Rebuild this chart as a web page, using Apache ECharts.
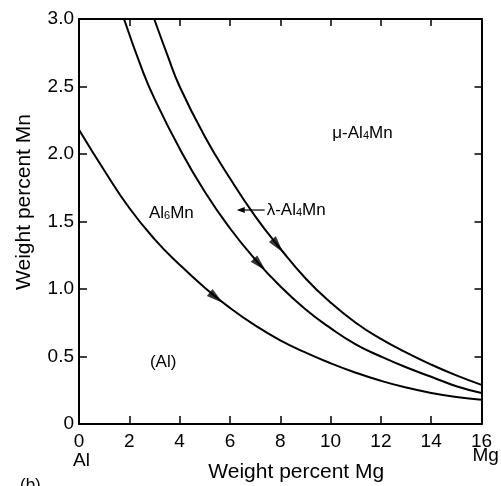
<!DOCTYPE html>
<html><head><meta charset="utf-8">
<script src="https://cdn.jsdelivr.net/npm/echarts@6/dist/echarts.min.js"></script>
<style>html,body{margin:0;padding:0;background:#fff}#c{width:501px;height:486px}</style>
</head><body><div id="c"></div>
<script>
// ---- data ----
const mgTicks = [0, 2, 4, 6, 8, 10, 12, 14, 16];
const mnTicks = [0, 0.5, 1.0, 1.5, 2.0, 2.5, 3.0];

const mgLower = [0, 1, 2, 3, 4, 5, 6, 7, 8, 9, 10, 11, 12, 13, 14, 15, 16];
const mnLower = [2.18, 1.88, 1.60, 1.37, 1.18, 1.01, 0.86, 0.73, 0.62, 0.53, 0.45, 0.38, 0.32, 0.27, 0.23, 0.20, 0.18];

const mgMiddle = [1.79, 2.5, 3, 4, 5, 6, 7, 8, 9, 10, 11, 12, 13, 14, 15, 16];
const mnMiddle = [3.0, 2.63, 2.41, 2.04, 1.72, 1.45, 1.22, 1.02, 0.85, 0.71, 0.59, 0.50, 0.42, 0.35, 0.28, 0.23];

const mgUpper = [2.99, 3.5, 4, 5, 6, 7, 8, 9, 10, 11, 12, 13, 14, 15, 16];
const mnUpper = [3.0, 2.74, 2.50, 2.13, 1.82, 1.54, 1.30, 1.08, 0.90, 0.75, 0.63, 0.53, 0.44, 0.36, 0.29];

// arrowheads on the curves (Mg, Mn) and their direction (deg below horizontal)
const arrowMg = [5.46, 7.19, 7.9];
const arrowMn = [0.935, 1.18, 1.32];
const arrowAngle = [39, 46, 51];

// ---- chart ----
const FONT = '"Liberation Sans", Arial, sans-serif';
const chart = echarts.init(document.getElementById('c'), null, {renderer: 'canvas'});
const zip = (xs, ys) => xs.map((x, i) => [x, ys[i]]);
const lineStyle = {color: '#000', width: 2};
const curve = (xs, ys) => ({
  type: 'line', data: zip(xs, ys), smooth: 0.5, symbol: 'none',
  lineStyle: lineStyle, silent: true, z: 3
});

const option = {
  animation: false,
  backgroundColor: '#fff',
  grid: {left: 79, right: 19.5, top: 19, bottom: 62},
  xAxis: [{
    type: 'value', min: 0, max: 16, interval: 2, position: 'bottom',
    axisLine: {show: true, lineStyle: {color: '#000', width: 2}},
    axisTick: {show: true, inside: true, length: 8, lineStyle: {color: '#000', width: 1.5}},
    axisLabel: {color: '#000', fontSize: 19, fontFamily: FONT, margin: 8,
      formatter: v => mgTicks.includes(v) ? String(v) : ''},
    splitLine: {show: false}
  }, {
    type: 'value', min: 0, max: 16, interval: 2, position: 'top',
    axisLine: {show: true, onZero: false, lineStyle: {color: '#000', width: 2}},
    axisTick: {show: true, inside: true, length: 7, lineStyle: {color: '#000', width: 1.5}},
    axisLabel: {show: false}, splitLine: {show: false}
  }],
  yAxis: [{
    type: 'value', min: 0, max: 3, interval: 0.5, position: 'left',
    axisLine: {show: true, lineStyle: {color: '#000', width: 2}},
    axisTick: {show: true, inside: true, length: 8, lineStyle: {color: '#000', width: 1.5}},
    axisLabel: {color: '#000', fontSize: 19, fontFamily: FONT, margin: 5,
      formatter: v => v === 0 ? '0' : v.toFixed(1)},
    splitLine: {show: false}
  }, {
    type: 'value', min: 0, max: 3, interval: 0.5, position: 'right',
    axisLine: {show: true, onZero: false, lineStyle: {color: '#000', width: 2}},
    axisTick: {show: true, inside: true, length: 7, lineStyle: {color: '#000', width: 1.5}},
    axisLabel: {show: false}, splitLine: {show: false}
  }],
  series: [
    curve(mgLower, mnLower),
    curve(mgMiddle, mnMiddle),
    curve(mgUpper, mnUpper),
    {
      type: 'scatter', silent: true, z: 4,
      data: arrowMg.map((x, i) => ({
        value: [x, arrowMn[i]],
        symbolRotate: -(90 + arrowAngle[i])
      })),
      symbol: 'triangle', symbolSize: [9, 17],
      itemStyle: {color: '#000'}
    }
  ]
};
chart.setOption(option);

// ---- annotations placed in data coordinates ----
const px = (x, y) => chart.convertToPixel({gridIndex: 0}, [x, y]);
const rich = {s: {fontSize: 11, fontFamily: FONT, fill: '#000', verticalAlign: 'bottom', padding: [5, 0, 0, 0]}};
const txt = (p, text, size) => ({
  type: 'text', x: p[0], y: p[1], silent: true,
  style: {text: text, fill: '#000', fontSize: size, fontFamily: FONT,
    align: 'left', verticalAlign: 'middle', rich: rich}
});

const pMu = px(10.07, 2.156);
const pLam = px(7.46, 1.585);
const pLamArrEnd = px(6.27, 1.585);
const pAl6 = px(2.78, 1.563);
const pAl = px(2.82, 0.46);
const p0 = px(0, 0);
const p16 = px(16, 0);
const gridCenterX = (p0[0] + p16[0]) / 2;

const graphic = [
  txt(pMu, 'μ-Al{s|4}Mn', 17),
  txt(pLam, 'λ-Al{s|4}Mn', 17),
  txt(pAl6, 'Al{s|6}Mn', 17),
  txt(pAl, '(Al)', 17),
  {type: 'line', silent: true, shape: {x1: pLam[0] - 2, y1: pLam[1], x2: pLamArrEnd[0] + 4, y2: pLam[1]},
    style: {stroke: '#000', lineWidth: 1.2}},
  {type: 'polygon', silent: true, shape: {points: [
    [pLamArrEnd[0], pLam[1]], [pLamArrEnd[0] + 8, pLam[1] - 3], [pLamArrEnd[0] + 8, pLam[1] + 3]]},
    style: {fill: '#000'}},
  // axis titles
  {type: 'text', silent: true, x: gridCenterX + 16, y: 472,
    style: {text: 'Weight percent Mg', fill: '#000', fontSize: 21, fontFamily: FONT, align: 'center', verticalAlign: 'middle'}},
  {type: 'text', silent: true, x: 24, y: 202, rotation: Math.PI / 2,
    style: {text: 'Weight percent Mn', fill: '#000', fontSize: 21, fontFamily: FONT, align: 'center', verticalAlign: 'middle'}},
  // endpoint names
  {type: 'text', silent: true, x: p0[0] - 6, y: 461,
    style: {text: 'Al', fill: '#000', fontSize: 19, fontFamily: FONT, align: 'left', verticalAlign: 'middle'}},
  {type: 'text', silent: true, x: p16[0] - 9, y: 456,
    style: {text: 'Mg', fill: '#000', fontSize: 19, fontFamily: FONT, align: 'left', verticalAlign: 'middle'}},
  // panel label
  {type: 'text', silent: true, x: 20, y: 477,
    style: {text: '(b)', fill: '#000', fontSize: 17, fontFamily: FONT, align: 'left', verticalAlign: 'top'}}
];
chart.setOption({graphic: graphic});
</script>
</body></html>
